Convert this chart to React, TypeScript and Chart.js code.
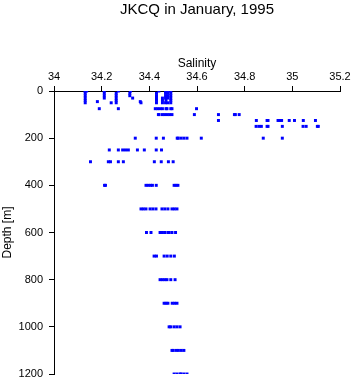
import React, { useEffect, useRef } from "react";
import { Chart, registerables } from "chart.js";

Chart.register(...registerables);

const titleText = "JKCQ in January, 1995";
const xLabel = "Salinity";
const yLabel = "Depth [m]";

const depthLevels = [0, 10, 20, 30, 40, 45, 50, 75, 100, 125, 150, 200, 250, 300, 400, 500, 600, 700, 800, 900, 1000, 1100, 1200];

const salinityByLevel = [
  [34.13, 34.137, 34.211, 34.27, 34.321, 34.44, 34.468, 34.478, 34.49],
  [34.131, 34.211, 34.261, 34.318, 34.43, 34.468, 34.478, 34.49],
  [34.131, 34.211, 34.261, 34.318, 34.43, 34.468, 34.478, 34.49],
  [34.131, 34.211, 34.261, 34.33, 34.43, 34.455, 34.468, 34.478, 34.49],
  [34.131, 34.261, 34.43, 34.455, 34.47, 34.49],
  [34.182, 34.362],
  [34.131, 34.24, 34.261, 34.365, 34.43, 34.455, 34.468, 34.478, 34.49],
  [34.19, 34.27, 34.425, 34.435, 34.445, 34.455, 34.47, 34.474, 34.49, 34.495, 34.598],
  [34.438, 34.441, 34.455, 34.465, 34.475, 34.485, 34.495, 34.589, 34.69, 34.757, 34.761, 34.777],
  [34.69, 34.849, 34.894, 34.898, 34.94, 34.948, 34.955, 34.987, 35.009, 35.046, 35.097],
  [34.848, 34.86, 34.87, 34.894, 34.898, 34.958, 35.045, 35.058, 35.105, 35.109],
  [34.341, 34.429, 34.459, 34.517, 34.521, 34.533, 34.545, 34.558, 34.618, 34.878, 34.958],
  [34.232, 34.27, 34.288, 34.3, 34.312, 34.35, 34.379, 34.429, 34.451],
  [34.153, 34.228, 34.237, 34.27, 34.291, 34.421, 34.45, 34.48, 34.5],
  [34.212, 34.216, 34.386, 34.395, 34.405, 34.413, 34.429, 34.504, 34.512, 34.52],
  [34.365, 34.375, 34.386, 34.403, 34.415, 34.428, 34.453, 34.465, 34.478, 34.495, 34.505, 34.516],
  [34.388, 34.407, 34.445, 34.455, 34.465, 34.478, 34.483, 34.495, 34.51],
  [34.42, 34.43, 34.462, 34.475, 34.49, 34.505],
  [34.445, 34.455, 34.465, 34.474, 34.49, 34.508],
  [34.462, 34.47, 34.478, 34.496, 34.506, 34.516],
  [34.483, 34.49, 34.504, 34.516, 34.529],
  [34.495, 34.5, 34.512, 34.522, 34.534, 34.545],
  [34.504, 34.516, 34.529, 34.533, 34.545, 34.558],
];

const xMin = 34;
const xMax = 35.2;
const xStep = 0.2;
const yMin = 0;
const yMax = 1200;
const yStep = 200;

const FONT = "'Liberation Sans', Arial, Helvetica, sans-serif";

export default function App() {
  const ref = useRef<HTMLCanvasElement | null>(null);

  useEffect(() => {
    document.body.style.margin = "0";
    if (!ref.current) return;
    const points: { x: number; y: number }[] = [];
    depthLevels.forEach((d, i) => {
      salinityByLevel[i].forEach((s) => points.push({ x: s, y: d }));
    });

    const chart = new Chart(ref.current, {
      type: "scatter",
      data: {
        datasets: [
          {
            data: points,
            pointStyle: "rect",
            pointRadius: 2.1,
            pointHoverRadius: 2.1,
            pointBorderWidth: 0,
            backgroundColor: "#0000ff",
            borderColor: "#0000ff",
          },
        ],
      },
      options: {
        responsive: false,
        animation: false,
        events: [],
        layout: { padding: { left: 0, right: 13, top: 0, bottom: 10 } },
        plugins: {
          legend: { display: false },
          tooltip: { enabled: false },
          title: {
            display: true,
            text: titleText,
            fullSize: false,
            color: "#000",
            font: { family: FONT, size: 15, weight: "normal" },
            padding: { top: 1, bottom: 30 },
          },
        },
        scales: {
          x: {
            type: "linear",
            position: "top",
            min: xMin,
            max: xMax,
            ticks: {
              stepSize: xStep,
              autoSkip: false,
              maxRotation: 0,
              color: "#000",
              padding: 2,
              font: { family: FONT, size: 11 },
              callback: (v: any) => String(Math.round(Number(v) * 10) / 10),
            },
            grid: { drawOnChartArea: false, drawTicks: true, tickLength: 5, color: "#000" },
            border: { display: true, color: "#000", width: 1 },
            title: {
              display: true,
              text: xLabel,
              color: "#000",
              font: { family: FONT, size: 12 },
              padding: { top: 7, bottom: 0 },
            },
            afterFit: (s: any) => {
              s.height = 42;
            },
          },
          y: {
            type: "linear",
            position: "left",
            reverse: true,
            min: yMin,
            max: yMax,
            ticks: {
              stepSize: yStep,
              autoSkip: false,
              color: "#000",
              padding: 6,
              font: { family: FONT, size: 11 },
              callback: (v: any) => String(Math.round(Number(v))),
            },
            grid: { drawOnChartArea: false, drawTicks: true, tickLength: 5, color: "#000" },
            border: { display: true, color: "#000", width: 1 },
            title: {
              display: true,
              text: yLabel,
              color: "#000",
              font: { family: FONT, size: 12 },
              padding: 0,
            },
            afterFit: (s: any) => {
              s.width = 54;
              s.paddingTop = 0;
              s.paddingBottom = 0;
            },
          },
        },
      },
    } as any);
    return () => chart.destroy();
  }, []);

  return (
    <div style={{ position: "absolute", left: 0, top: 0, width: 353, height: 384 }}>
      <canvas ref={ref} width={353} height={384} style={{ display: "block", width: 353, height: 384 }} />
    </div>
  );
}
